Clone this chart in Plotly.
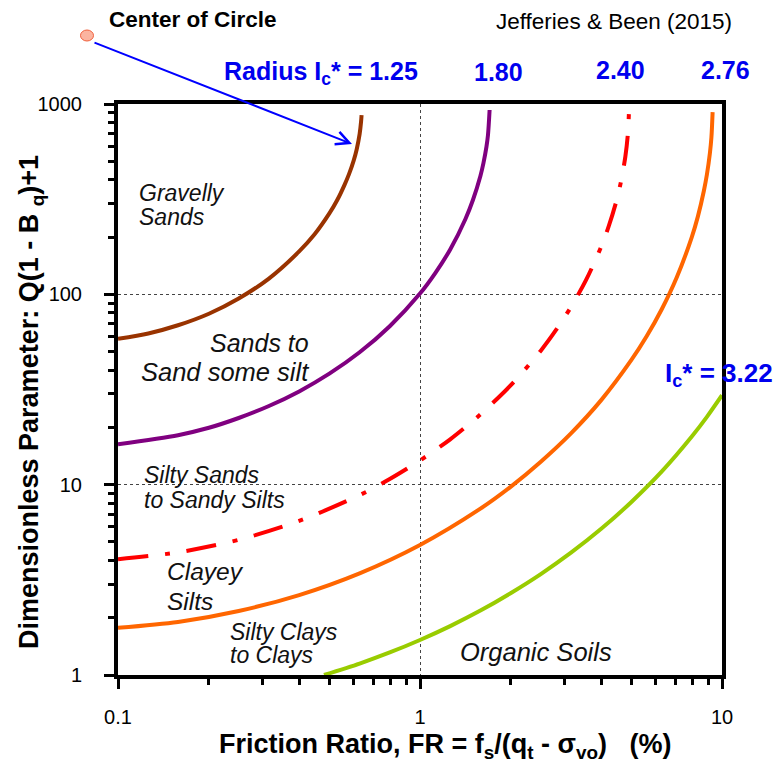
import math
import plotly.graph_objects as go

# ---- data (FR %, Q(1-Bq)+1) ----
fr_125 = [0.1, 0.126, 0.158, 0.2, 0.251, 0.316, 0.398, 0.447, 0.501, 0.531, 0.562, 0.582,
          0.603, 0.617, 0.631, 0.638, 0.6405]
q_125 = [58.4, 62.3, 68.8, 79.1, 95.1, 121, 168, 206, 266, 311, 375, 428,
         504, 577, 695, 807, 875]

fr_180 = [0.1, 0.158, 0.2, 0.251, 0.316, 0.398, 0.501, 0.631, 0.794, 1.0, 1.122, 1.259,
          1.413, 1.496, 1.585, 1.622, 1.66, 1.679, 1.70]
q_180 = [16.3, 18.2, 19.9, 22.4, 25.9, 30.9, 38.3, 49.6, 68.0, 101, 129, 172,
         248, 312, 419, 489, 597, 686, 930]

fr_240 = [0.1, 0.158, 0.251, 0.398, 0.631, 0.794, 1.0, 1.259, 1.585, 1.995, 2.512, 2.818,
          3.162, 3.548, 3.981, 4.217, 4.467, 4.624, 4.786, 4.875, 4.92]
q_240 = [4.06, 4.41, 5.13, 6.45, 8.81, 10.7, 13.4, 17.3, 23.4, 33.2, 50.6, 64.8,
         85.8, 119, 178, 228, 308, 388, 529, 686, 907]

fr_276 = [0.1, 0.158, 0.251, 0.398, 0.631, 1.0, 1.585, 1.995, 2.512, 3.162, 3.981, 5.012,
          5.623, 6.31, 7.079, 7.943, 8.318, 8.71, 8.913, 9.12, 9.226, 9.31]
q_276 = [1.77, 1.90, 2.17, 2.63, 3.42, 4.82, 7.48, 9.74, 13.2, 18.6, 27.8, 45.2,
         60.0, 83.2, 122.5, 200, 256, 350, 426, 553, 670, 907]

fr_322 = [0.481, 0.631, 0.794, 1.0, 1.259, 1.585, 1.995, 2.512, 3.162, 3.981, 5.012,
          6.31, 7.943, 8.913, 10]
q_322 = [1.0, 1.149, 1.314, 1.528, 1.807, 2.18, 2.69, 3.39, 4.39, 5.86, 8.11,
         11.7, 17.9, 22.7, 29.5]

x_ticks = [0.1, 1, 10]
x_ticktext = ["0.1", "1", "10"]
x_minor = [0.2, 0.3, 0.4, 0.5, 0.6, 0.7, 0.8, 0.9, 2, 3, 4, 5, 6, 7, 8, 9]
y_ticks = [1, 10, 100, 1000]
y_ticktext = ["1", "10", "100", "1000"]
y_minor = [2, 3, 4, 5, 6, 7, 8, 9, 20, 30, 40, 50, 60, 70, 80, 90,
           200, 300, 400, 500, 600, 700, 800, 900]

zone_labels = [
    # text, FR, Q, anchor, size
    ("Gravelly", 0.1156, 341, "left", 23),
    ("Sands", 0.1156, 255, "left", 23),
    ("Sands to", 0.4365, 55.5, "right", 25),
    ("Sand some silt", 0.4365, 39.1, "right", 25.5),
    ("Silty Sands", 0.120, 11.25, "left", 23),
    ("to Sandy Silts", 0.120, 8.31, "left", 23),
    ("Clayey", 0.1431, 3.48, "left", 24.5),
    ("Silts", 0.1431, 2.42, "left", 24.5),
    ("Silty Clays", 0.2312, 1.68, "left", 23),
    ("to Clays", 0.2312, 1.274, "left", 23),
    ("Organic Soils", 1.336, 1.32, "left", 25.5),
]

curve_styles = [
    (fr_125, q_125, "#993300", "solid"),
    (fr_180, q_180, "#800080", "solid"),
    (fr_240, q_240, "#FF0000", "30px,17px,5px,17px"),
    (fr_276, q_276, "#FF6600", "solid"),
    (fr_322, q_322, "#99CC00", "solid"),
]

W, H = 780, 768
L, R, T, B = 118, 58, 104, 93
PW, PH = W - L - R, H - T - B


def px(xp):
    return (xp - L) / PW


def py(yp):
    return (H - B - yp) / PH


fig = go.Figure()
for fx, qy, col, dash in curve_styles:
    fig.add_trace(go.Scatter(
        x=fx, y=qy, mode="lines",
        line=dict(color=col, width=4, dash=dash, shape="spline", smoothing=0.8),
        showlegend=False, hoverinfo="skip",
    ))

FONT = "Liberation Sans, Arial, sans-serif"
annos = []
for t, fx, qy, anc, sz in zone_labels:
    annos.append(dict(x=math.log10(fx), y=math.log10(qy), xref="x", yref="y",
                      text="<i>" + t + "</i>", showarrow=False, xanchor=anc,
                      yanchor="middle", font=dict(family=FONT, size=sz, color="#111111")))

blue = "#0000EE"
bfont = dict(family=FONT, size=25, color=blue)
annos += [
    dict(x=px(107), y=py(20), xref="paper", yref="paper", text="<b>Center of Circle</b>",
         showarrow=False, xanchor="left", yanchor="middle",
         font=dict(family=FONT, size=22.5, color="black")),
    dict(x=px(494), y=py(22), xref="paper", yref="paper", text="Jefferies & Been (2015)",
         showarrow=False, xanchor="left", yanchor="middle",
         font=dict(family=FONT, size=22.5, color="black")),
    dict(x=px(222), y=py(73), xref="paper", yref="paper", text="<b>Radius I<sub>c</sub>* = 1.25</b>",
         showarrow=False, xanchor="left", yanchor="middle", font=bfont),
    dict(x=px(498), y=py(72), xref="paper", yref="paper", text="<b>1.80</b>",
         showarrow=False, xanchor="center", yanchor="middle", font=bfont),
    dict(x=px(620), y=py(70), xref="paper", yref="paper", text="<b>2.40</b>",
         showarrow=False, xanchor="center", yanchor="middle", font=bfont),
    dict(x=px(725), y=py(70), xref="paper", yref="paper", text="<b>2.76</b>",
         showarrow=False, xanchor="center", yanchor="middle", font=bfont),
    dict(x=px(663), y=py(374), xref="paper", yref="paper", text="<b>I<sub>c</sub>* = 3.22</b>",
         showarrow=False, xanchor="left", yanchor="middle",
         font=dict(family=FONT, size=26, color=blue)),
    # arrow from centre marker to brown curve
    dict(x=px(352), y=py(144), xref="paper", yref="paper", text="", showarrow=True,
         ax=93 - 352, ay=42 - 144, axref="pixel", ayref="pixel",
         arrowhead=5, arrowsize=1.3, arrowwidth=2, arrowcolor="#0000FF"),
    # axis titles
    dict(x=px(445), y=py(746), xref="paper", yref="paper",
         text="<b>Friction Ratio, FR = f<sub>s</sub>/(q<sub>t</sub> - σ<sub>vo</sub>)\u00a0\u00a0\u00a0(%)</b>",
         showarrow=False, xanchor="center", yanchor="middle",
         font=dict(family=FONT, size=27, color="black")),
    dict(x=px(31), y=py(402), xref="paper", yref="paper", textangle=-90,
         text="<b>Dimensionless Parameter: Q(1 - B <sub>q</sub>)+1</b>",
         showarrow=False, xanchor="center", yanchor="middle",
         font=dict(family=FONT, size=27, color="black")),
]

shapes = [
    dict(type="circle", xref="paper", yref="paper",
         x0=px(80.5), x1=px(93.5), y0=py(41), y1=py(30),
         fillcolor="#FBB4A0", line=dict(color="#F0603C", width=1)),
]

axis_common = dict(
    type="log", showline=True, linewidth=4, linecolor="black", mirror=True,
    ticks="outside", ticklen=10, tickwidth=3, tickcolor="black",
    showgrid=True, gridcolor="#444444", gridwidth=1, griddash="3px,3px",
    zeroline=False,
    tickfont=dict(family=FONT, size=20, color="black"),
    tickmode="array",
)

fig.update_layout(
    width=W, height=H,
    margin=dict(l=L, r=R, t=T, b=B, autoexpand=False),
    paper_bgcolor="white", plot_bgcolor="white",
    xaxis=dict(axis_common, range=[-1, 1], tickvals=x_ticks, ticktext=x_ticktext,
               ticklabelstandoff=11,
               minor=dict(tickmode="array", tickvals=x_minor, ticks="outside", ticklen=6,
                          tickwidth=3, tickcolor="black", showgrid=False)),
    yaxis=dict(axis_common, range=[0, 3], tickvals=y_ticks, ticktext=y_ticktext,
               ticklabelstandoff=18,
               minor=dict(tickmode="array", tickvals=y_minor, ticks="outside", ticklen=6,
                          tickwidth=3, tickcolor="black", showgrid=False)),
    annotations=annos, shapes=shapes, showlegend=False,
)

fig.write_html("out.html", config={"displayModeBar": False},
               post_script="document.body.style.margin='0';")
